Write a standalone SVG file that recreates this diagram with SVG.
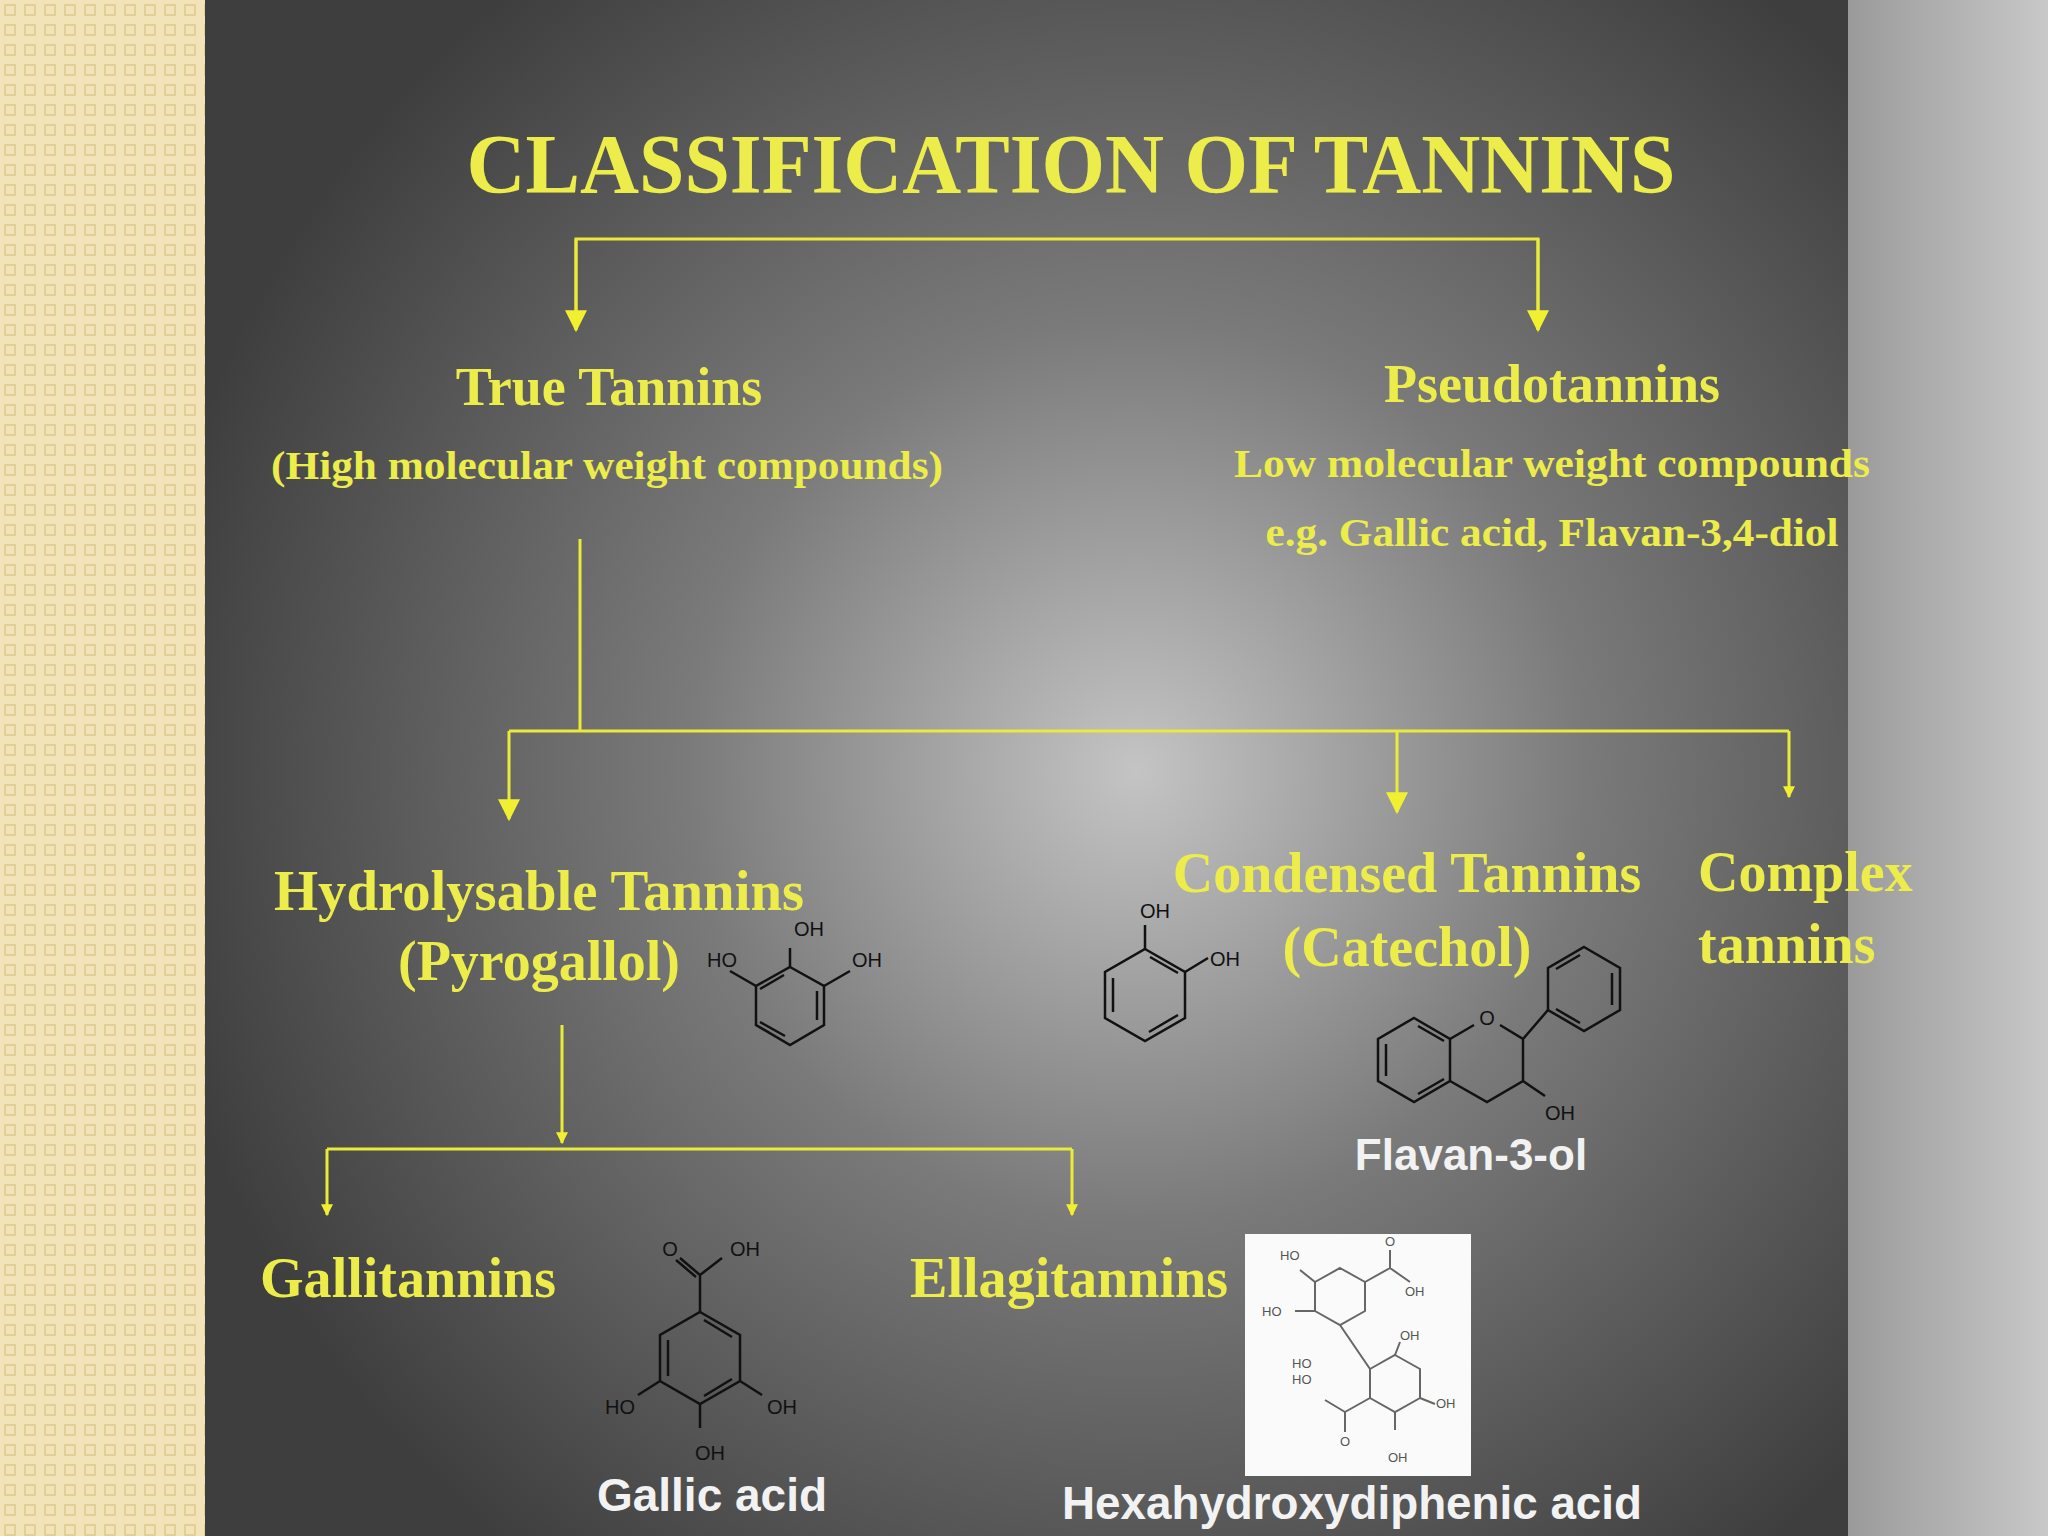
<svg xmlns="http://www.w3.org/2000/svg" width="2048" height="1536" viewBox="0 0 2048 1536">
<defs>
<pattern id="dots" width="20" height="20" patternUnits="userSpaceOnUse"><rect width="20" height="20" fill="#f3e3b8"/><rect x="5" y="5" width="10" height="10" fill="none" stroke="#e3cf98" stroke-width="2"/></pattern>
<radialGradient id="bg" cx="1136" cy="770" r="1000" gradientUnits="userSpaceOnUse"><stop offset="0" stop-color="#c4c4c4"/><stop offset="0.45" stop-color="#7a7a7a"/><stop offset="1" stop-color="#3e3e3e"/></radialGradient>
<linearGradient id="strip" x1="0" y1="0" x2="1" y2="0"><stop offset="0" stop-color="#9a9a9a"/><stop offset="1" stop-color="#c8c8c8"/></linearGradient>
<marker id="ah" viewBox="0 0 10 10" refX="9" refY="5" markerWidth="16" markerHeight="12" markerUnits="userSpaceOnUse" orient="auto"><path d="M0,0 L10,5 L0,10 Z" fill="#f0f030"/></marker>
<marker id="ahb" viewBox="0 0 10 10" refX="9" refY="5" markerWidth="30" markerHeight="22" markerUnits="userSpaceOnUse" orient="auto"><path d="M0,0 L10,5 L0,10 Z" fill="#f0f030"/></marker>
</defs>
<style>
.y{font-family:"Liberation Serif",serif;font-weight:bold;fill:#ecec4a}
.w{font-family:"Liberation Sans",Arial,sans-serif;font-weight:bold;fill:#f2f2f2}
.c{fill:none;stroke:#eaea38;stroke-width:3}
.m{fill:none;stroke:#111;stroke-width:2.5}
.mt{font-family:"Liberation Sans",sans-serif;font-size:20px;fill:#111}
.h{fill:none;stroke:#666;stroke-width:2}
.ht{font-family:"Liberation Sans",sans-serif;font-size:13px;fill:#555}
</style>
<rect width="2048" height="1536" fill="url(#bg)"/>
<rect x="0" y="0" width="205" height="1536" fill="url(#dots)"/>
<rect x="1848" y="0" width="200" height="1536" fill="url(#strip)"/>
<text class="y" x="1071" y="193" font-size="84" text-anchor="middle" textLength="1209" lengthAdjust="spacingAndGlyphs">CLASSIFICATION OF TANNINS</text>
<g id="connectors">
<path class="c" d="M576,330 V239 H1538 V330"/>
<path class="c" d="M576,239 V330" marker-end="url(#ahb)"/>
<path class="c" d="M1538,239 V330" marker-end="url(#ahb)"/>
<path class="c" d="M580,539 V731"/>
<path class="c" d="M509,731 H1789"/>
<path class="c" d="M509,731 V819" marker-end="url(#ahb)"/>
<path class="c" d="M1397,731 V812" marker-end="url(#ahb)"/>
<path class="c" d="M1789,731 V797" marker-end="url(#ah)"/>
<path class="c" d="M562,1025 V1143" marker-end="url(#ah)"/>
<path class="c" d="M327,1149 H1072"/>
<path class="c" d="M327,1149 V1215" marker-end="url(#ah)"/>
<path class="c" d="M1072,1149 V1215" marker-end="url(#ah)"/>
</g>
<g id="true"><text class="y" x="609" y="405" font-size="54" text-anchor="middle">True Tannins</text>
<text class="y" x="607" y="479" font-size="39" text-anchor="middle" textLength="672" lengthAdjust="spacingAndGlyphs">(High molecular weight compounds)</text></g>
<g id="pseudo"><text class="y" x="1552" y="402" font-size="54" text-anchor="middle">Pseudotannins</text>
<text class="y" x="1552" y="477" font-size="39" text-anchor="middle" textLength="636" lengthAdjust="spacingAndGlyphs">Low molecular weight compounds</text>
<text class="y" x="1552" y="546" font-size="39" text-anchor="middle" textLength="573" lengthAdjust="spacingAndGlyphs">e.g. Gallic acid, Flavan-3,4-diol</text></g>
<g id="hydro"><text class="y" x="274" y="910" font-size="56" textLength="530" lengthAdjust="spacingAndGlyphs">Hydrolysable Tannins</text>
<text class="y" x="539" y="980" font-size="56" text-anchor="middle">(Pyrogallol)</text>
<polygon class="m" points="790,967 824,986 824,1025 790,1045 756,1025 756,986"/>
<path class="m" d="M817,991 V1020 M785,1036 L760,1022 M784,975 L760,989 M790,967 V948 M824,986 L850,971 M756,986 L730,971"/>
<text class="mt" x="794" y="936" font-size="13">OH</text>
<text class="mt" x="852" y="967" font-size="14">OH</text>
<text class="mt" x="707" y="967" font-size="13">HO</text></g>
<g id="condensed"><text class="y" x="1407" y="892" font-size="56" text-anchor="middle">Condensed Tannins</text>
<text class="y" x="1407" y="966" font-size="56" text-anchor="middle">(Catechol)</text>
<polygon class="m" points="1145,949 1185,972 1185,1018 1145,1041 1105,1018 1105,972"/>
<path class="m" d="M1113,978 V1012 M1149,1032 L1178,1015 M1150,957 L1178,973 M1145,949 V925 M1185,972 L1208,958"/>
<text class="mt" x="1155" y="918" text-anchor="middle">OH</text>
<text class="mt" x="1210" y="966">OH</text>
<polygon class="m" points="1414,1018 1450,1039 1450,1081 1414,1102 1378,1081 1378,1039"/>
<path class="m" d="M1386,1044 V1076 M1418,1094 L1444,1079 M1418,1026 L1444,1041 M1450,1039 L1474,1025 M1500,1025 L1523,1039 L1523,1081 L1487,1102 L1450,1081 M1523,1039 L1548,1010 M1523,1081 L1545,1096"/>
<text class="mt" x="1487" y="1025" font-size="26" text-anchor="middle">O</text>
<polygon class="m" points="1584,947 1620,968 1620,1010 1584,1031 1548,1010 1548,968"/>
<path class="m" d="M1612,973 V1005 M1580,955 L1556,969 M1580,1023 L1556,1009"/>
<text class="mt" x="1545" y="1120" font-size="26">OH</text>
<text class="w" x="1471" y="1170" font-size="44" text-anchor="middle">Flavan-3-ol</text></g>
<g id="complex"><text class="y" x="1698" y="891" font-size="56">Complex</text>
<text class="y" x="1698" y="963" font-size="56">tannins</text></g>
<g id="galli"><text class="y" x="260" y="1297" font-size="56" textLength="296" lengthAdjust="spacingAndGlyphs">Gallitannins</text>
<polygon class="m" points="700,1312 740,1335 740,1381 700,1404 660,1381 660,1335"/>
<path class="m" d="M668,1340 V1376 M704,1320 L732,1337 M704,1396 L732,1379 M700,1312 V1275 L680,1258 M696,1277 L676,1260 M700,1275 L722,1258 M660,1381 L638,1395 M740,1381 L762,1395 M700,1404 V1428"/>
<text class="mt" x="670" y="1256" font-size="28" text-anchor="middle">O</text>
<text class="mt" x="745" y="1256" font-size="28" text-anchor="middle">OH</text>
<text class="mt" x="620" y="1414" font-size="28" text-anchor="middle">HO</text>
<text class="mt" x="782" y="1414" font-size="28" text-anchor="middle">OH</text>
<text class="mt" x="710" y="1460" font-size="28" text-anchor="middle">OH</text>
<text class="w" x="712" y="1511" font-size="46" text-anchor="middle">Gallic acid</text></g>
<g id="ellagi"><text class="y" x="910" y="1297" font-size="56" textLength="318" lengthAdjust="spacingAndGlyphs">Ellagitannins</text>
<rect x="1245" y="1234" width="226" height="242" fill="#fafafa"/>
<polygon class="h" points="1340,1268 1365,1282 1365,1311 1340,1325 1315,1311 1315,1282"/>
<polygon class="h" points="1395,1355 1420,1369 1420,1398 1395,1412 1370,1398 1370,1369"/>
<path class="h" d="M1340,1325 L1370,1369 M1365,1282 L1390,1268 L1390,1250 M1390,1268 L1410,1282 M1315,1282 L1300,1270 M1315,1311 L1295,1311 M1370,1398 L1345,1412 L1345,1432 M1345,1412 L1325,1400 M1420,1398 L1435,1404 M1395,1412 L1395,1430 M1395,1355 L1400,1342"/>
<text class="ht" x="1280" y="1260">HO</text><text class="ht" x="1262" y="1316">HO</text>
<text class="ht" x="1385" y="1246">O</text><text class="ht" x="1405" y="1296">OH</text>
<text class="ht" x="1400" y="1340">OH</text><text class="ht" x="1292" y="1368">HO</text>
<text class="ht" x="1292" y="1384">HO</text><text class="ht" x="1436" y="1408">OH</text>
<text class="ht" x="1340" y="1446">O</text><text class="ht" x="1388" y="1462">OH</text>
<text class="w" x="1352" y="1519" font-size="46" text-anchor="middle" textLength="580" lengthAdjust="spacingAndGlyphs">Hexahydroxydiphenic acid</text></g>
</svg>
